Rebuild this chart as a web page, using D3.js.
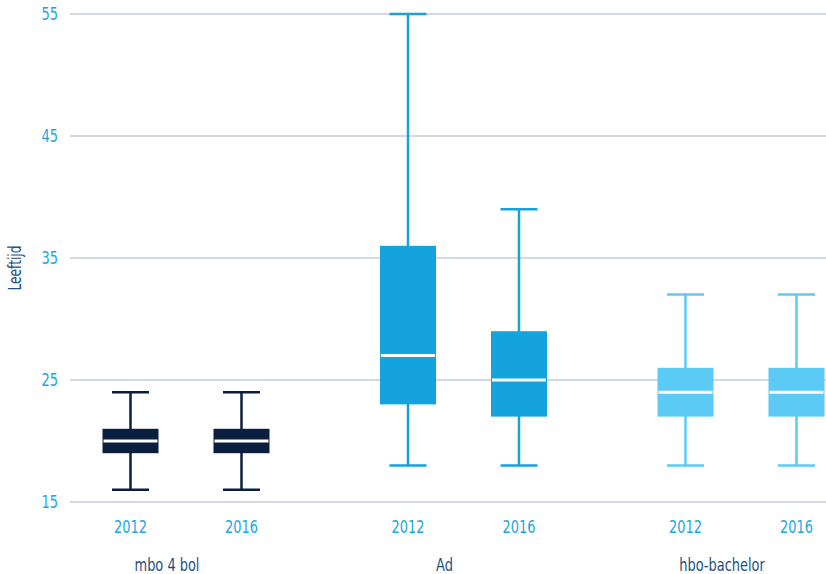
<!DOCTYPE html>
<html>
<head>
<meta charset="utf-8">
<script src="https://d3js.org/d3.v7.min.js"></script>
<style>
  body { margin: 0; background: #fff; }
  text { font-family: "DejaVu Sans Condensed", "DejaVu Sans", sans-serif; font-stretch: condensed; }
</style>
</head>
<body>
<div id="chart"></div>
<script>
// data
var groups = ["mbo 4 bol", "Ad", "hbo-bachelor"];
var years = ["2012", "2016"];
var whiskerLow  = [16, 16, 18, 18, 18, 18];
var q1          = [19, 19, 23, 22, 22, 22];
var median      = [20, 20, 27, 25, 24, 24];
var q3          = [21, 21, 36, 29, 26, 26];
var whiskerHigh = [24, 24, 55, 39, 32, 32];
var yTicks = [15, 25, 35, 45, 55];
var groupColors = ["#0a1f3f", "#14a3dc", "#5bcbf5"];

var width = 826, height = 574;
var squeeze = 0.8; // the original font is narrower than anything installed

var svg = d3.select("#chart")
  .append("svg")
    .attr("width", width)
    .attr("height", height);

var y = d3.scaleLinear()
  .domain([15, 55])
  .range([502, 14]);

var xGroup = d3.scalePoint()
  .domain(groups)
  .range([186, 741]);

var xYear = d3.scalePoint()
  .domain(years)
  .range([-55.5, 55.5]);

// build box rows
var boxes = [];
groups.forEach(function(g, gi) {
  years.forEach(function(yr, yi) {
    var i = gi * years.length + yi;
    boxes.push({group: g, year: yr, gi: gi,
      lo: whiskerLow[i], q1: q1[i], med: median[i], q3: q3[i], hi: whiskerHigh[i]});
  });
});

// gridlines + y labels
var grid = svg.append("g");
grid.selectAll("line")
  .data(yTicks)
  .enter().append("line")
    .attr("x1", 70)
    .attr("x2", width)
    .attr("y1", function(d) { return y(d); })
    .attr("y2", function(d) { return y(d); })
    .attr("stroke", "#c5cbdf")
    .attr("stroke-width", 1.5);

grid.selectAll("text")
  .data(yTicks)
  .enter().append("text")
    .attr("transform", function(d) { return "translate(58," + y(d) + ")scale(" + squeeze + ",1)"; })
    .attr("dy", "0.36em")
    .attr("text-anchor", "end")
    .attr("fill", "#1fa6e0")
    .style("font-size", "18px")
    .text(function(d) { return d; });

// y axis title
svg.append("text")
  .attr("transform", "translate(21,268)rotate(-90)scale(" + squeeze + ",1)")
  .attr("text-anchor", "middle")
  .attr("fill", "#1d4f80")
  .style("font-size", "17px")
  .text("Leeftijd");

var boxW = 56, capW = 37;

var b = svg.append("g").selectAll("g")
  .data(boxes)
  .enter().append("g")
    .attr("transform", function(d) { return "translate(" + (xGroup(d.group) + xYear(d.year)) + ",0)"; });

// whisker stem
b.append("line")
  .attr("x1", 0).attr("x2", 0)
  .attr("y1", function(d) { return y(d.lo); })
  .attr("y2", function(d) { return y(d.hi); })
  .attr("stroke", function(d) { return groupColors[d.gi]; })
  .attr("stroke-width", 2.5);

// caps
["lo", "hi"].forEach(function(k) {
  b.append("line")
    .attr("x1", -capW / 2).attr("x2", capW / 2)
    .attr("y1", function(d) { return y(d[k]); })
    .attr("y2", function(d) { return y(d[k]); })
    .attr("stroke", function(d) { return groupColors[d.gi]; })
    .attr("stroke-width", 2.5);
});

// box
b.append("rect")
  .attr("x", -boxW / 2)
  .attr("width", boxW)
  .attr("y", function(d) { return y(d.q3); })
  .attr("height", function(d) { return y(d.q1) - y(d.q3); })
  .attr("fill", function(d) { return groupColors[d.gi]; });

// median
b.append("line")
  .attr("x1", -boxW / 2 + 1).attr("x2", boxW / 2 - 1)
  .attr("y1", function(d) { return y(d.med); })
  .attr("y2", function(d) { return y(d.med); })
  .attr("stroke", "#fff")
  .attr("stroke-width", 3);

// year labels
b.append("text")
  .attr("transform", "translate(0,533)scale(" + squeeze + ",1)")
  .attr("text-anchor", "middle")
  .attr("fill", "#1fa6e0")
  .style("font-size", "18px")
  .text(function(d) { return d.year; });

// group labels
svg.append("g").selectAll("text")
  .data(groups)
  .enter().append("text")
    .attr("transform", function(d) { return "translate(" + (xGroup(d) - 19) + ",571)scale(" + squeeze + ",1)"; })
    .attr("text-anchor", "middle")
    .attr("fill", "#1d4f80")
    .style("font-size", "18px")
    .text(function(d) { return d; });
</script>
</body>
</html>
